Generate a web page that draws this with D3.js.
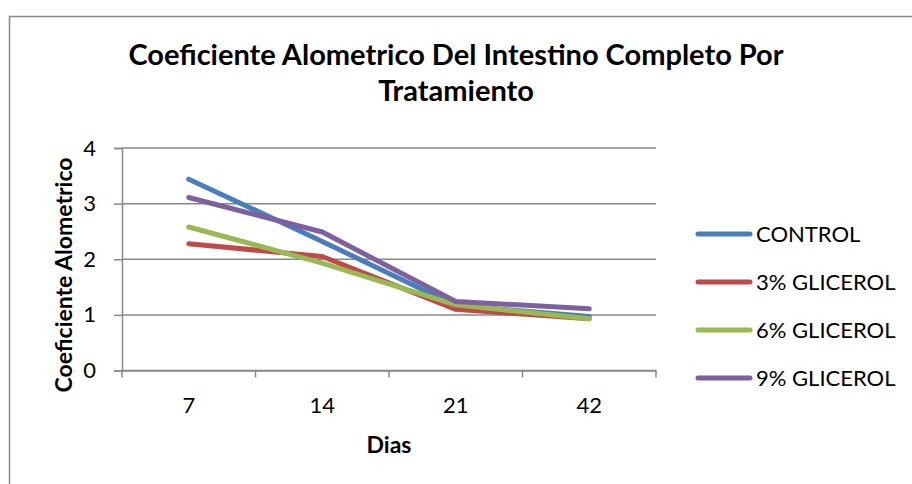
<!DOCTYPE html>
<html><head><meta charset="utf-8">
<script src="https://cdn.jsdelivr.net/npm/d3@7"></script>
<style>body{margin:0;background:#fff}svg{display:block}text{font-family:Lato,"Open Sans",sans-serif}</style>
</head><body>
<svg id="c" width="912" height="484"></svg>
<script>
const categories = ["7", "14", "21", "42"];
const seriesNames = ["CONTROL", "3% GLICEROL", "6% GLICEROL", "9% GLICEROL"];
const control = [3.44, 2.32, 1.17, 0.97];
const glicerol3 = [2.28, 2.05, 1.10, 0.93];
const glicerol6 = [2.58, 1.93, 1.18, 0.93];
const glicerol9 = [3.11, 2.49, 1.24, 1.11];
const yTicks = [0, 1, 2, 3, 4];
const colors = ["#4A7EBB", "#BE4B48", "#98B954", "#7D60A0"];
const series = [control, glicerol3, glicerol6, glicerol9];

const svg = d3.select("#c");
svg.append("rect").attr("x", 9.5).attr("y", 16.5).attr("width", 920).attr("height", 500)
  .attr("fill", "#fff").attr("stroke", "#888").attr("stroke-width", 1.5);

const L = 122, R = 656, T = 148, B = 370.5;
const x = d3.scaleBand().domain(categories).range([L, R]);
const y = d3.scaleLinear().domain([0, 4]).range([B, T]);

// gridlines
svg.append("g").selectAll("line").data(yTicks).join("line")
  .attr("x1", L).attr("x2", R).attr("y1", d => y(d)).attr("y2", d => y(d))
  .attr("stroke", "#888").attr("stroke-width", 1.5);

// y axis
const ya = svg.append("g").attr("transform", `translate(${L},0)`)
  .call(d3.axisLeft(y).tickValues(yTicks).tickSize(8).tickPadding(18).tickFormat(d3.format("d")));
ya.select(".domain").attr("stroke", "#888").attr("stroke-width", 1.5);
ya.selectAll(".tick line").attr("stroke", "#888").attr("stroke-width", 1.5);
ya.selectAll(".tick text").attr("font-size", 22).attr("fill", "#000").attr("font-family", "Lato");

// x axis
const xa = svg.append("g").attr("transform", `translate(0,${B})`)
  .call(d3.axisBottom(x).tickSize(0).tickPadding(27));
xa.select(".domain").attr("stroke", "#888").attr("stroke-width", 1.5);
xa.selectAll(".tick text").attr("font-size", 22).attr("fill", "#000").attr("font-family", "Lato");
svg.append("g").selectAll("line").data(d3.range(categories.length + 1)).join("line")
  .attr("x1", i => L + i * x.step()).attr("x2", i => L + i * x.step())
  .attr("y1", B).attr("y2", B + 7).attr("stroke", "#888").attr("stroke-width", 1.5);

// lines
const line = d3.line().x((d, i) => x(categories[i]) + x.bandwidth() / 2).y(d => y(d));
series.forEach((s, k) => {
  svg.append("path").datum(s).attr("d", line).attr("fill", "none")
    .attr("stroke", colors[k]).attr("stroke-width", 5)
    .attr("stroke-linecap", "round").attr("stroke-linejoin", "round");
});

// titles
const title = svg.append("text").attr("x", 456).attr("text-anchor", "middle")
  .attr("font-size", 29).attr("font-weight", "bold").attr("fill", "#000");
title.append("tspan").attr("x", 456).attr("y", 65).text("Coeficiente Alometrico Del Intestino Completo Por");
title.append("tspan").attr("x", 456).attr("y", 101).text("Tratamiento");

svg.append("text").attr("x", 389).attr("y", 453).attr("text-anchor", "middle")
  .attr("font-size", 23).attr("font-weight", "bold").text("Dias");
svg.append("text").attr("transform", "translate(72,275) rotate(-90)").attr("text-anchor", "middle")
  .attr("font-size", 23).attr("font-weight", "bold").text("Coeficiente Alometrico");

// legend
const leg = svg.append("g");
seriesNames.forEach((n, k) => {
  const yy = 234 + k * 48;
  leg.append("line").attr("x1", 698).attr("x2", 750).attr("y1", yy).attr("y2", yy)
    .attr("stroke", colors[k]).attr("stroke-width", 5).attr("stroke-linecap", "round");
  leg.append("text").attr("x", 756).attr("y", yy + 8).attr("font-size", 22).text(n);
});
</script>
</body></html>
